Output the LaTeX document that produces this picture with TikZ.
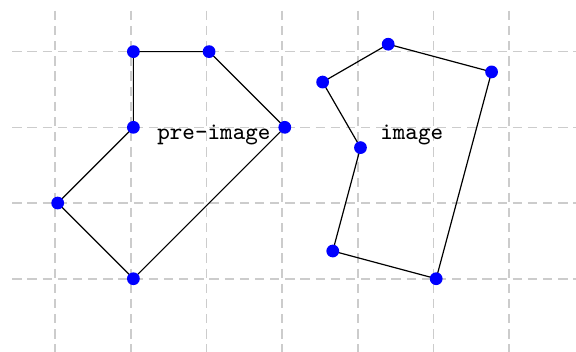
\documentclass[tikz,border=0pt]{standalone}
\begin{document}
\begin{tikzpicture}[x=1cm,y=1cm,
  gridline/.style={draw=gray!40,line width=0.6pt,dash pattern=on 3.5pt off 2.2pt},
  edge/.style={draw=black,line width=0.45pt},
  vtx/.style={circle,fill=blue,inner sep=0pt,minimum size=4.2pt},
  lbl/.style={font=\ttfamily\fontsize{9}{10}\selectfont,anchor=base,inner sep=0pt}]
\useasboundingbox (-0.762,-0.968) rectangle (6.847,3.682);
% grid
\foreach \i in {0,...,6}{
  \draw[gridline] (\i-0.035,3.54) -- (\i-0.035,-0.968);
}
\foreach \j in {0,...,3}{
  \draw[gridline] (-0.60,\j) -- (6.847,\j);
}
% pre-image
\node[vtx] (a1) at (1,3) {};
\node[vtx] (a2) at (2,3) {};
\node[vtx] (a3) at (3,2) {};
\node[vtx] (a4) at (1,0) {};
\node[vtx] (a5) at (0,1) {};
\node[vtx] (a6) at (1,2) {};
% image (rotated 30 degrees)
\node[vtx] (b1) at (3.5,2.598) {};
\node[vtx] (b2) at (4.366,3.098) {};
\node[vtx] (b3) at (5.732,2.732) {};
\node[vtx] (b4) at (5,0) {};
\node[vtx] (b5) at (3.634,0.366) {};
\node[vtx] (b6) at (4,1.732) {};
\draw[edge] (a1.center) -- (a2.center) -- (a3.center) -- (a4.center) -- (a5.center) -- (a6.center) -- (a1.center);
\draw[edge] (b1.center) -- (b2.center) -- (b3.center) -- (b4.center) -- (b5.center) -- (b6.center) -- (b1.center);
\foreach \n in {a1,a2,a3,a4,a5,a6,b1,b2,b3,b4,b5,b6}{
  \fill[blue] (\n) circle (2.4pt);
}
\node[lbl] (pre) at (2.064,1.841) {pre-image};
\node[lbl] (img) at (4.677,1.841) {image};
\end{tikzpicture}
\end{document}
